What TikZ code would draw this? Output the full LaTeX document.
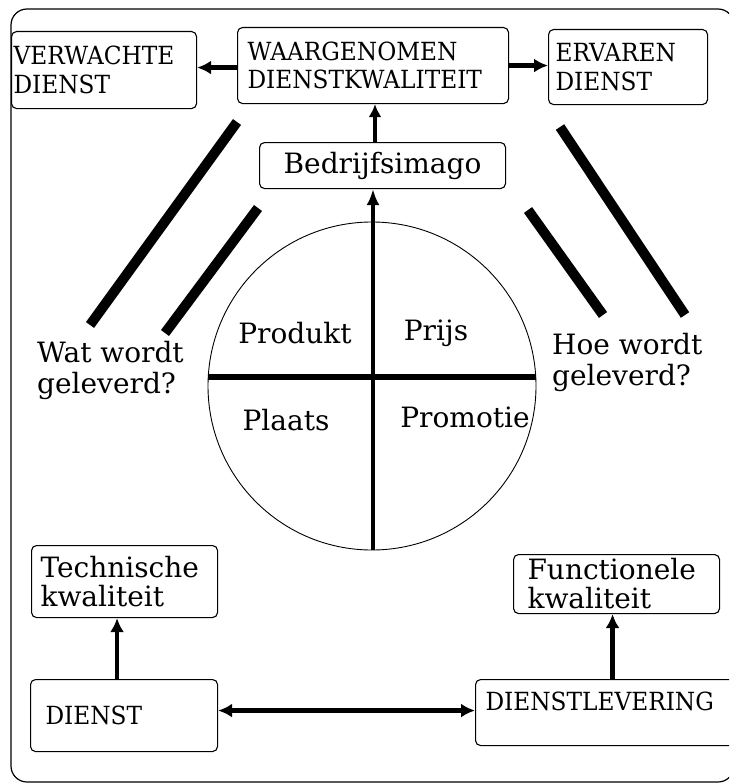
\documentclass[tikz,border=0pt]{standalone}
\usepackage{fontspec}
\setmainfont{DejaVu Serif}
\newfontfamily\upfont{DejaVu Serif}[FakeStretch=0.93]
\usetikzlibrary{arrows.meta,calc}
\tikzset{
  box/.style={draw, line width=1.1pt, rounded corners=5pt, anchor=north west, inner ysep=0pt, align=left},
  up/.style={font=\upfont\fontsize{25}{28.5}\selectfont},
  low/.style={font=\fontsize{28}{29}\selectfont},
  lbl/.style={font=\fontsize{28}{31}\selectfont, inner sep=0pt, align=left},
  arr/.style={line width=4.5pt, -{Latex[length=14pt,width=14pt]}},
  dblarr/.style={line width=4.5pt, {Latex[length=14pt,width=14pt]}-{Latex[length=14pt,width=14pt]}},
  bar/.style={line width=10pt}
}
\begin{document}
\begin{tikzpicture}[x=1pt,y=-1pt]
\useasboundingbox (0,0) rectangle (729,784);
\clip (0,0) rectangle (729,784);
% outer frame
\draw[line width=1.2pt, rounded corners=16pt] (11,9) rectangle (734,782);
% top boxes
\node[box, up, inner xsep=2pt, text width=181pt, minimum height=77pt] (verw) at (11,31) {VERWACHTE\\DIENST};
\node[box, up, inner xsep=10pt, text width=251pt, minimum height=76pt] (waar) at (237,27) {WAARGENOMEN\\DIENSTKWALITEIT};
\node[box, up, inner xsep=7pt, text width=145pt, minimum height=75pt] (erv) at (548,29) {ERVAREN\\DIENST};
\node[box, low, inner xsep=0pt, text width=246pt, align=center, minimum height=46pt] (bedr) at (259,142) {Bedrijfsimago};
% bottom boxes
\node[box, low, inner xsep=9pt, text width=168pt, minimum height=72pt] (tech) at (31,545) {Technische\\kwaliteit};
\node[box, low, inner xsep=14pt, text width=178pt, minimum height=59pt] (func) at (513,554) {Functionele\\kwaliteit};
\node[box, up, inner xsep=15pt, text width=157pt, minimum height=72pt] (dienst) at (30,679) {DIENST};
\node[box, up, inner xsep=10pt, text width=242pt, minimum height=66pt] (lev) at (475,679) {DIENSTLEVERING\\[-6pt]\mbox{}};
% circle
\node[circle, draw, line width=0.9pt, minimum size=328pt, inner sep=0pt] (circ) at (372,386) {};
\draw[line width=6pt] ([yshift=9pt]circ.west) -- ([yshift=9pt]circ.east);
\draw[line width=4.5pt, -{Latex[length=16pt,width=13pt]}] ([xshift=1pt]circ.south) -- ([xshift=1pt]circ.south |- bedr.south);
\draw[line width=4pt, -{Latex[length=13pt,width=13pt]}] ([xshift=3pt]circ.south |- bedr.north) -- ([xshift=3pt]circ.south |- waar.south);
% quadrant labels
\node[lbl] (prod) at (295,333) {Produkt};
\node[lbl] (prijs) at (436,333) {Prijs};
\node[lbl] (plaats) at (286,420) {Plaats};
\node[lbl] (promo) at (465,417) {Promotie};
% side labels
\node[lbl, anchor=west] (wat) at (37,370) {Wat wordt\\geleverd?};
\node[lbl, anchor=west] (hoe) at (552,362) {Hoe wordt\\geleverd?};
% diagonal bars
\draw[bar] (237,122) -- (90,325);
\draw[bar] (258,208) -- (165,333);
\draw[bar] (528,210) -- (603,315);
\draw[bar] (560,127) -- (685,315);
% top arrows
\draw[arr] ([yshift=-2pt]waar.west) -- ([yshift=-2pt]waar.west -| verw.east);
\draw[arr] (waar.east) -- (waar.east -| erv.west);
% bottom arrows
\draw[arr] ([xshift=-7pt]dienst.north) -- ([xshift=-7pt]dienst.north |- tech.south);
\draw[arr] ([xshift=-4pt]func.south |- lev.north) -- ([xshift=-4pt]func.south);
\draw[dblarr] ([yshift=5pt]dienst.east) -- ([yshift=5pt]dienst.east -| lev.west);
\end{tikzpicture}
\end{document}
